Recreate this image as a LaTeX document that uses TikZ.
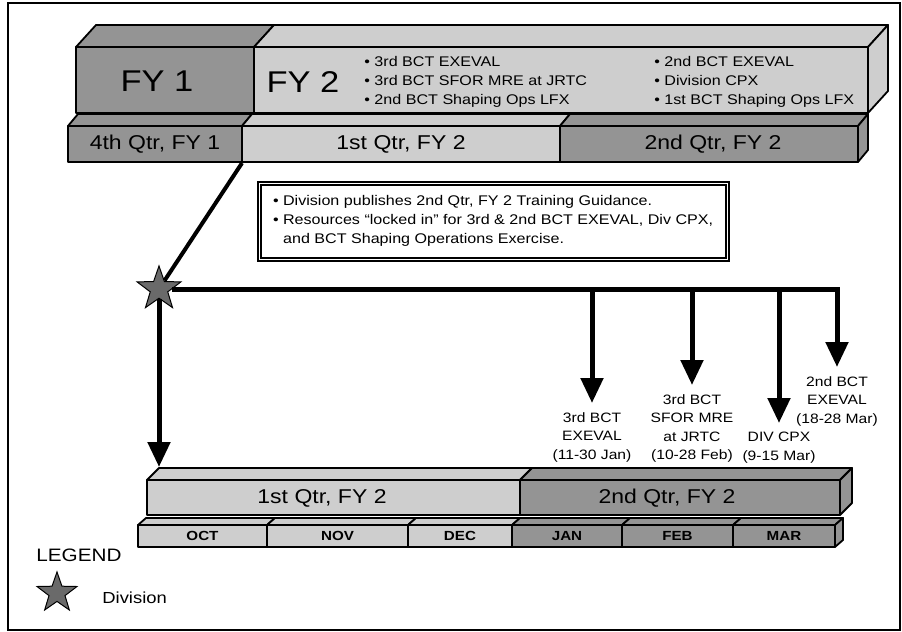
\documentclass[tikz,border=0pt]{standalone}
\usepackage{fontspec}
\setmainfont[FakeStretch=1.15]{Liberation Sans}
\usetikzlibrary{arrows.meta,shapes.geometric}
\definecolor{slab-light}{HTML}{CECECE}
\definecolor{slab-dark}{HTML}{949494}
\definecolor{star-grey}{HTML}{6A6A6A}

\tikzset{
  slabline/.style={draw=black, line width=0.9pt, line join=round},
  divstar/.style={star, star points=5, star point ratio=2.5, minimum size=23pt,
    inner sep=0pt, fill=star-grey, draw=black, line width=0.5pt},
  trunk/.style={line width=2.5pt},
  eventarrow/.style={line width=2.5pt, -{Triangle[width=11pt,length=12.5pt]}},
}

% x1, x2, ytop, ybot, dx, dy, fill
\newcommand{\slab}[7]{%
  \filldraw[slabline, fill=#7] (#1,#3) -- ({#1+#5},{#3-#6}) -- ({#2+#5},{#3-#6}) -- (#2,#3) -- cycle;
  \filldraw[slabline, fill=#7] (#1,#3) rectangle (#2,#4);
}
% x, ytop, ybot, dx, dy, fill
\newcommand{\slabside}[6]{%
  \filldraw[slabline, fill=#6] (#1,#2) -- ({#1+#4},{#2-#5}) -- ({#1+#4},{#3-#5}) -- (#1,#3) -- cycle;
}

\begin{document}
\begin{tikzpicture}[x=0.5pt, y=-0.5pt,
    every node/.style={inner sep=0pt},
    fylabel/.style={font=\fontsize{15}{17}\selectfont},
    bullets/.style={align=left, font=\fontsize{7}{9.5}\selectfont},
    qlabel/.style={font=\fontsize{10}{12}\selectfont},
    monthlabel/.style={font=\bfseries\fontsize{6.6}{8}\selectfont},
    evt/.style={align=center, inner sep=4.5pt, font=\fontsize{6.8}{9.25}\selectfont},
    guidebox/.style={draw, line width=1pt, double, double distance=0.5pt,
      inner xsep=7pt, minimum height=38pt, font=\fontsize{7}{9.5}\selectfont}]
  \useasboundingbox (0,0) rectangle (902,632);
  \draw[line width=0.8pt] (8,3) rectangle (900,630);

  % fiscal years
  \slab{76}{254}{47}{113}{20}{22}{slab-dark}
  \slab{254}{868}{47}{113}{20}{22}{slab-light}
  \slabside{868}{47}{113}{20}{22}{slab-light}
  \node[fylabel] (fy1) at (157,81) {FY 1};
  \node[fylabel] (fy2) at (303,82) {FY 2};
  \node[bullets, anchor=west] (fy2left) at (364,82)
    {• 3rd BCT EXEVAL\\• 3rd BCT SFOR MRE at JRTC\\• 2nd BCT Shaping Ops LFX};
  \node[bullets, anchor=west] (fy2right) at (654,82)
    {• 2nd BCT EXEVAL\\• Division CPX\\• 1st BCT Shaping Ops LFX};

  % quarters
  \slab{68}{242}{126}{162}{10}{12}{slab-dark}
  \slab{242}{560}{126}{162}{10}{12}{slab-light}
  \slab{560}{858}{126}{162}{10}{12}{slab-dark}
  \slabside{858}{126}{162}{10}{12}{slab-dark}
  \node[qlabel] (q4) at (155,144) {4th Qtr, FY 1};
  \node[qlabel] (q1) at (401,144) {1st Qtr, FY 2};
  \node[qlabel] (q2) at (713,144) {2nd Qtr, FY 2};
  \coordinate (q4corner) at (242,163);

  % guidance
  \node[guidebox, anchor=west] (guide) at (258,221)
    {\begin{tabular}{@{}l@{ }l@{}}
      • & Division publishes 2nd Qtr, FY 2 Training Guidance.\\
      • & Resources “locked in” for 3rd \& 2nd BCT EXEVAL, Div CPX,\\
        & and BCT Shaping Operations Exercise.
     \end{tabular}};

  % division and events
  \node[divstar] (div) at (159,289) {};
  \draw[line width=2pt] (q4corner) -- (div);

  \node[evt, anchor=north] (e1) at (592,403) {3rd BCT\\EXEVAL\\(11-30 Jan)};
  \node[evt, anchor=north] (e2) at (692,385) {3rd BCT\\SFOR MRE\\at JRTC\\(10-28 Feb)};
  \node[evt, anchor=north] (e3) at (779,423) {DIV CPX\\(9-15 Mar)};
  \node[evt, anchor=north] (e4) at (837,367) {2nd BCT\\EXEVAL\\(18-28 Mar)};
  \coordinate (j1) at (592,289);
  \coordinate (j2) at (692,289);
  \coordinate (j3) at (779,289);
  \draw[eventarrow] (div) -| (e4);
  \draw[eventarrow] (j1) -- (e1);
  \draw[eventarrow] (j2) -- (e2);
  \draw[eventarrow] (j3) -- (e3);

  % lower timeline
  \slab{147}{520}{480}{515}{12}{12}{slab-light}
  \slab{520}{840}{480}{515}{12}{12}{slab-dark}
  \slabside{840}{480}{515}{12}{12}{slab-dark}
  \node[qlabel] (bq1) at (322,498) {1st Qtr, FY 2};
  \node[qlabel] (bq2) at (667,498) {2nd Qtr, FY 2};
  \coordinate (bcorner) at (159,467);
  \draw[eventarrow] (div) -- (bcorner);

  \foreach \xa/\xb/\mname/\col in {138/267/OCT/slab-light, 267/408/NOV/slab-light,
      408/512/DEC/slab-light, 512/622/JAN/slab-dark, 622/733/FEB/slab-dark,
      733/835/MAR/slab-dark} {
    \slab{\xa}{\xb}{525}{547}{8}{7}{\col}
    \node[monthlabel] (month-\mname) at ({(\xa+\xb)/2},536) {\mname};
  }
  \slabside{835}{525}{547}{8}{7}{slab-dark}

  % legend
  \node[anchor=west, font=\fontsize{9}{11}\selectfont] (legend) at (36,555) {LEGEND};
  \node[divstar, minimum size=21pt] (legstar) at (57,593) {};
  \node[anchor=west, font=\fontsize{8}{10}\selectfont] (legdiv) at (102,598) {Division};
\end{tikzpicture}
\end{document}
